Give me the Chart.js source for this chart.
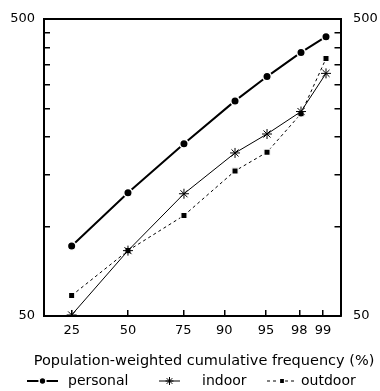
<!DOCTYPE html>
<html lang="en">
<head>
<meta charset="UTF-8">
<title>Population-weighted cumulative frequency</title>
<script src="https://cdn.jsdelivr.net/npm/chart.js"></script>
<style>
    html, body { margin: 0; padding: 0; background: #fff; }
    canvas { display: block; }
</style>
</head>
<body>
<canvas id="freqChart" width="380" height="391"></canvas>
<script>
// percentile labels along the probability axis
const percentiles = ['25', '50', '75', '90', '95', '98', '99'];
// where the labelled ticks sit (normal score units, as drawn)
const tickScores = [-0.676, 0, 0.664, 1.156, 1.657, 2.056, 2.341];
// where the plotted points sit on the same axis
const pointScores = [-0.676, 0, 0.672, 1.285, 1.669, 2.077, 2.377];

const personal = [86, 130, 190, 265, 320, 386, 436];
const indoor = [50.4, 83, 129, 177, 205, 244, 328];
const outdoor = [58.6, 83, 109, 154, 178, 240, 368];

const yTicks = [50, 100, 150, 200, 250, 300, 350, 400, 450, 500];
const yLabels = [50, 500];

const xTitle = 'Population-weighted cumulative frequency (%)';

Chart.defaults.font.family = 'DejaVu Sans';
Chart.defaults.font.size = 13;
Chart.defaults.color = '#000';

function toPoints(values) {
    return values.map((v, i) => ({ x: pointScores[i], y: v }));
}

// axis title + legend drawn as "line + marker + text", like the original figure
const captions = {
    id: 'captions',
    afterDraw(chart, args, opts) {
        const ctx = chart.ctx;
        ctx.save();
        ctx.fillStyle = '#000';
        ctx.textBaseline = 'middle';
        ctx.textAlign = 'center';
        ctx.font = '14.5px "DejaVu Sans"';
        ctx.fillText(xTitle, opts.titleX, opts.titleY);

        ctx.textAlign = 'left';
        ctx.font = '14px "DejaVu Sans"';
        chart.data.datasets.forEach((ds, i) => {
            const it = opts.items[i];
            const y = opts.legendY;
            ctx.strokeStyle = ds.borderColor;
            ctx.lineWidth = ds.borderWidth;
            ctx.setLineDash(ds.borderDash || []);
            ctx.beginPath();
            ctx.moveTo(it.x, y);
            ctx.lineTo(it.x + it.w, y);
            ctx.stroke();
            ctx.setLineDash([]);
            ctx.fillStyle = ds.pointBackgroundColor;
            ctx.strokeStyle = ds.pointBorderColor;
            ctx.lineWidth = ds.pointBorderWidth;
            Chart.helpers.drawPoint(ctx, {
                pointStyle: ds.pointStyle,
                radius: ds.pointRadius * 0.8,
                borderWidth: ds.pointBorderWidth,
                rotation: 0
            }, it.x + it.w / 2, y);
            ctx.fillStyle = '#000';
            ctx.fillText(ds.label, it.tx, y);
        });
        ctx.restore();
    }
};

const yAxis = (position, pad, width) => ({
    type: 'logarithmic',
    position: position,
    min: 50,
    max: 500,
    afterBuildTicks: s => { s.ticks = yTicks.map(v => ({ value: v })); },
    afterFit: s => {
        s.width = width;
        s.paddingTop = 0;
        s.paddingBottom = 0;
    },
    ticks: {
        autoSkip: false,
        padding: pad,
        callback: v => (yLabels.includes(v) ? String(v) : '')
    },
    grid: { drawOnChartArea: false, drawTicks: true, tickLength: -6, color: '#000', lineWidth: 1.5 },
    border: { color: '#000', width: 2 }
});

new Chart(document.getElementById('freqChart'), {
    type: 'line',
    data: {
        datasets: [
            {
                label: 'personal',
                data: toPoints(personal),
                borderColor: '#000',
                borderWidth: 2,
                pointStyle: 'circle',
                pointRadius: 4.25,
                pointBackgroundColor: '#000',
                pointBorderColor: '#fff',
                pointBorderWidth: 1.5
            },
            {
                label: 'indoor',
                data: toPoints(indoor),
                borderColor: '#000',
                borderWidth: 1,
                pointStyle: 'star',
                pointRadius: 5,
                pointBackgroundColor: '#000',
                pointBorderColor: '#000',
                pointBorderWidth: 1
            },
            {
                label: 'outdoor',
                data: toPoints(outdoor),
                borderColor: '#000',
                borderWidth: 1,
                borderDash: [3, 3],
                pointStyle: 'rect',
                pointRadius: 4.4,
                pointBackgroundColor: '#000',
                pointBorderColor: '#fff',
                pointBorderWidth: 1.2
            }
        ]
    },
    options: {
        responsive: false,
        animation: false,
        layout: { padding: 0 },
        plugins: {
            legend: { display: false },
            tooltip: { enabled: false },
            captions: {
                titleX: 204,
                titleY: 361,
                legendY: 381,
                items: [
                    { x: 27, w: 31, tx: 68 },
                    { x: 159, w: 21, tx: 202 },
                    { x: 267, w: 30, tx: 301 }
                ]
            }
        },
        scales: {
            x: {
                type: 'linear',
                position: 'bottom',
                min: -1.008,
                max: 2.551,
                afterBuildTicks: s => { s.ticks = tickScores.map(v => ({ value: v })); },
                afterFit: s => { s.height = 75; },
                ticks: {
                    autoSkip: false,
                    maxRotation: 0,
                    padding: 13,
                    callback: (v, i) => percentiles[i]
                },
                grid: { drawOnChartArea: false, drawTicks: true, tickLength: -6, color: '#000', lineWidth: 1.5 },
                border: { color: '#000', width: 2 }
            },
            xTop: {
                type: 'linear',
                position: 'top',
                min: -1.008,
                max: 2.551,
                afterFit: s => { s.height = 19; },
                ticks: { display: false },
                grid: { display: false },
                border: { color: '#000', width: 2 }
            },
            y: yAxis('left', 15, 44),
            yRight: yAxis('right', 18.5, 39.5)
        }
    },
    plugins: [captions]
});
</script>
</body>
</html>
